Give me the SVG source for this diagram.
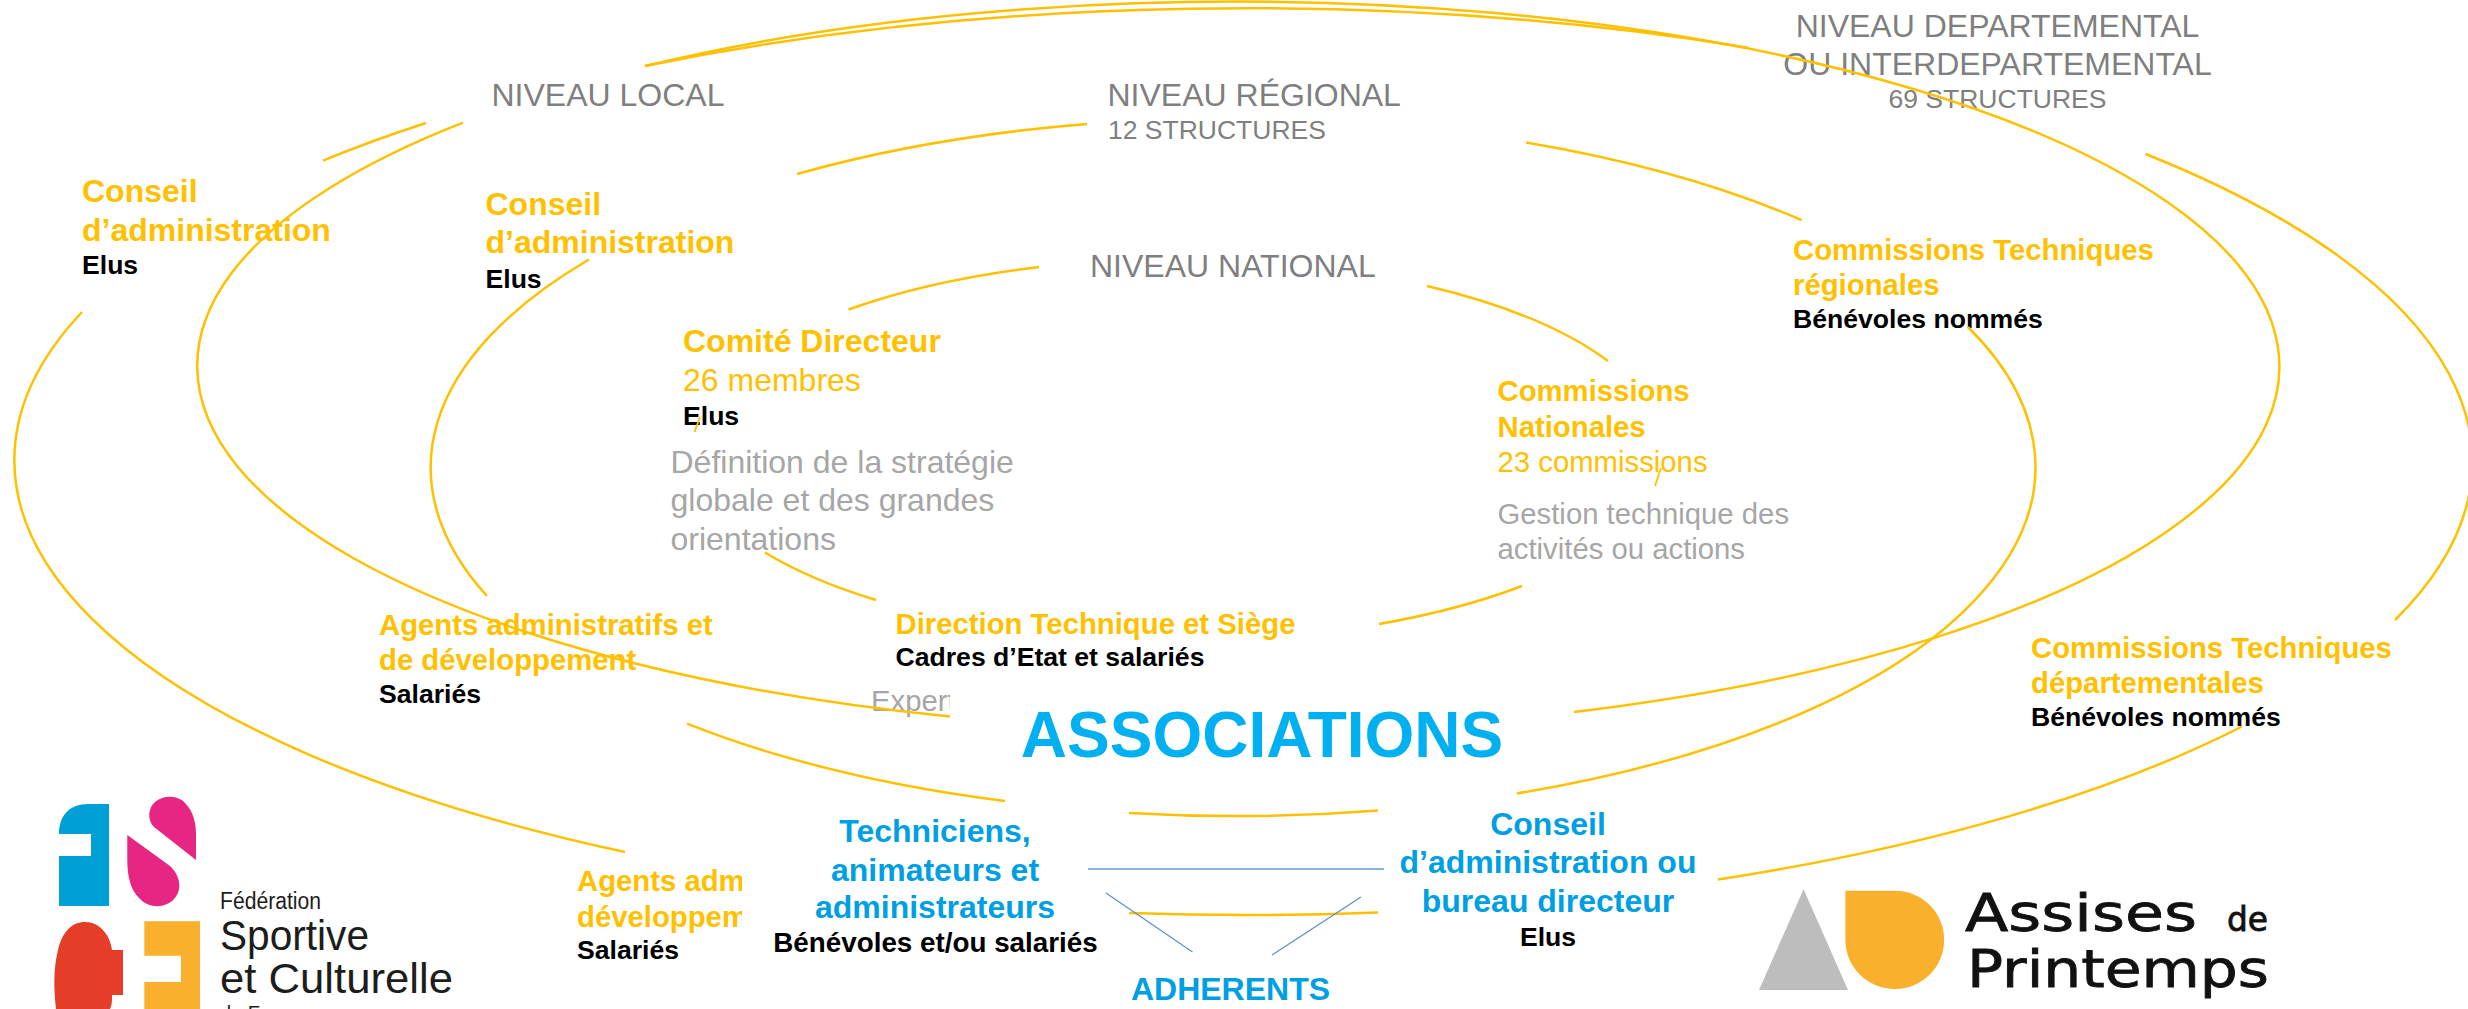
<svg xmlns="http://www.w3.org/2000/svg" width="2468" height="1009" viewBox="0 0 2468 1009">
<style>
text{font-family:"Liberation Sans",Arial,sans-serif}
.lvl{font-size:32px;fill:#7f7f7f}
.cnt{font-size:26.5px;fill:#7f7f7f}
.ttl{font-size:32px;font-weight:700;fill:#ffc000}
.ttm{font-size:29.3px;font-weight:700;fill:#ffc000}
.sub{font-size:32px;fill:#ffc000}
.subm{font-size:29.3px;fill:#ffc000}
.blk{font-size:26.6px;font-weight:700;fill:#000}
.dsc{font-size:32px;fill:#a6a6a6}
.dsm{font-size:29.3px;fill:#a6a6a6}
.blu{font-size:32px;font-weight:700;fill:#009fe3;text-anchor:middle}
.mid{text-anchor:middle}
.arc{fill:none;stroke:#ffc000;stroke-width:2.5}
.tick{fill:none;stroke:#ffc000;stroke-width:1.8}
.lnk{fill:none;stroke:#8eb4e3;stroke-width:2}
.lnd{fill:none;stroke:#5b8fc9;stroke-width:1.2}
.lg1{font-family:"Liberation Sans",Arial,sans-serif;fill:#1d1d1b}
.lg2{font-family:"DejaVu Sans",sans-serif;fill:#111;stroke:#111;stroke-width:.8}
</style>
<defs>
<clipPath id="clipExpert"><rect x="0" y="680" width="950" height="60"/></clipPath>
<clipPath id="clipAgents"><rect x="500" y="850" width="242" height="90"/></clipPath>
</defs>

<g id="niveau-local"><text class="lvl" x="491.5" y="106">NIVEAU LOCAL</text></g>
<g id="niveau-regional"><text class="lvl" x="1107.5" y="106">NIVEAU RÉGIONAL</text><text class="cnt" x="1108" y="138.5">12 STRUCTURES</text></g>
<g id="niveau-national"><text class="lvl" x="1090" y="277">NIVEAU NATIONAL</text></g>
<g id="niveau-departemental"><text class="lvl mid" x="1997.5" y="37">NIVEAU DEPARTEMENTAL</text><text class="lvl mid" x="1997.5" y="75">OU INTERDEPARTEMENTAL</text><text class="cnt mid" x="1997.5" y="108">69 STRUCTURES</text></g>

<g id="conseil-dept"><text class="ttl" x="82" y="202">Conseil</text><text class="ttl" x="82" y="241">d’administration</text><text class="blk" x="82" y="274">Elus</text></g>
<g id="conseil-local"><text class="ttl" x="485.5" y="215">Conseil</text><text class="ttl" x="485.5" y="253">d’administration</text><text class="blk" x="485.5" y="288">Elus</text></g>
<g id="comite-directeur"><text class="ttl" x="683" y="352">Comité Directeur</text><text class="sub" x="683" y="391">26 membres</text><text class="blk" x="683" y="424.5">Elus</text><text class="dsc" x="670.5" y="473">Définition de la stratégie</text><text class="dsc" x="670.5" y="511">globale et des grandes</text><text class="dsc" x="670.5" y="550">orientations</text></g>
<g id="commissions-nationales"><text class="ttm" x="1497.5" y="401">Commissions</text><text class="ttm" x="1497.5" y="437">Nationales</text><text class="subm" x="1497.5" y="472">23 commissions</text><text class="dsm" x="1497.5" y="523.5">Gestion technique des</text><text class="dsm" x="1497.5" y="559">activités ou actions</text></g>
<g id="commissions-regionales"><text class="ttm" x="1793" y="260">Commissions Techniques</text><text class="ttm" x="1793" y="295">régionales</text><text class="blk" x="1793" y="328">Bénévoles nommés</text></g>
<g id="commissions-departementales"><text class="ttm" x="2031" y="658">Commissions Techniques</text><text class="ttm" x="2031" y="693">départementales</text><text class="blk" x="2031" y="726">Bénévoles nommés</text></g>
<g id="agents-regionaux"><text class="ttm" x="379" y="635">Agents administratifs et</text><text class="ttm" x="379" y="670">de développement</text><text class="blk" x="379" y="702.5">Salariés</text></g>
<g id="agents-dept"><g clip-path="url(#clipAgents)"><text class="ttm" x="577" y="891">Agents adm</text><text class="ttm" x="577" y="927">développem</text></g><text class="blk" x="577" y="958.5">Salariés</text></g>
<g id="direction-technique"><text class="ttm" x="895.5" y="634">Direction Technique et Siège</text><text class="blk" x="895.5" y="666">Cadres d’Etat et salariés</text><text class="dsm" x="871" y="710.5" clip-path="url(#clipExpert)">Expert</text></g>
<g id="associations"><text class="mid" x="1262" y="757" font-size="64" font-weight="700" fill="#00b0f0">ASSOCIATIONS</text></g>
<g id="techniciens"><text class="blu" x="935" y="842">Techniciens,</text><text class="blu" x="935" y="881">animateurs et</text><text class="blu" x="935" y="918">administrateurs</text><text class="blk mid" x="935.5" y="952" font-size="27.8" style="font-size:27.8px">Bénévoles et/ou salariés</text></g>
<g id="conseil-association"><text class="blu" x="1548" y="834.5">Conseil</text><text class="blu" x="1548" y="872.5">d’administration ou</text><text class="blu" x="1548" y="912">bureau directeur</text><text class="blk mid" x="1548" y="946">Elus</text></g>
<g id="adherents"><text class="blu" x="1230.5" y="1000">ADHERENTS</text></g>

<g id="connectors">
<path class="arc" d="M645 66 A1231 453.5 0 0 1 1748 47.7"/>
<path class="arc" d="M426 123 A1231 453.5 0 0 0 323 160.6"/>
<path class="arc" d="M82 312 A1231 453.5 0 0 0 625 852"/>
<path class="arc" d="M1129 913 A1231 453.5 0 0 0 1378 912.5"/>
<path class="arc" d="M1718 879.5 A1231 453.5 0 0 0 2242 726.5"/>
<path class="arc" d="M2395 620 A1231 453.5 0 0 0 2145.5 154"/>
<path class="arc" d="M645 66 A1043 365 0 1 1 1574 712"/>
<path class="arc" d="M950 716.6 A1043 365 0 0 1 463 122.6"/>
<path class="arc" d="M797 174 A803 349 0 0 1 1087 124"/>
<path class="arc" d="M1526 142.5 A803 349 0 0 1 1801.5 220"/>
<path class="arc" d="M1968 327 A803 349 0 0 1 1517 793.4"/>
<path class="arc" d="M1378 810.5 A803 349 0 0 1 1129 813"/>
<path class="arc" d="M1005 801 A803 349 0 0 1 687 723.6"/>
<path class="arc" d="M487 596 A803 349 0 0 1 589 259.5"/>
<path class="arc" d="M1039 267 A490 191 0 0 0 848.5 309.5"/>
<path class="arc" d="M1427 286 A490 191 0 0 1 1608 361"/>
<path class="arc" d="M765 552.5 A490 191 0 0 0 876 600"/>
<path class="arc" d="M1522 586 A490 191 0 0 1 1379 624"/>
<path class="tick" d="M694.5 432 L700 417"/>
<path class="tick" d="M1655 486 L1661 468"/>
<path class="lnk" d="M1088 869 H1384"/>
<path class="lnd" d="M1106 893 L1192.5 952"/>
<path class="lnd" d="M1361 897 L1272 955"/>
</g>

<g id="logo-fscf">
<path fill="#009fd6" d="M59 834 C59 815 70 804 88 804 L109 804 L109 906 L59 906 L59 856 L91 856 L91 834 Z"/>
<path fill="#e72583" d="M196 860 L154 827 C147 820 148 808 155 802 C162 796 176 794 185 803 C193 811 196 822 196 835 Z"/>
<path fill="#e72583" d="M127.3 835 L170 866 C180 875 183 890 174 899 C166 908 150 909 140 899 C130 890 127.3 875 127.3 860 Z"/>
<path fill="#e53d28" d="M56 1009 C54 990 53 970 58 950 C62 932 72 922 85 922 C100 922 110 935 112 950 L123 950 L123 995 L112 995 C112 1002 112 1005 110 1009 Z"/>
<path fill="#f9b02c" d="M144.3 921.3 L200 921.3 L200 1009 L144.3 1009 L144.3 982 L181 982 L181 955.7 L144.3 955.7 Z"/>
<text class="lg1" x="220" y="908.5" font-size="23" textLength="101" lengthAdjust="spacingAndGlyphs">Fédération</text>
<text class="lg1" x="220" y="950" font-size="43" textLength="149" lengthAdjust="spacingAndGlyphs">Sportive</text>
<text class="lg1" x="220" y="993" font-size="43" textLength="233" lengthAdjust="spacingAndGlyphs">et Culturelle</text>
<text class="lg1" x="220" y="1020" font-size="20">de France</text>
</g>

<g id="logo-assises">
<path fill="#bdbdbd" d="M1803.6 889.3 L1848 990 L1759 990 Z"/>
<path fill="#f9b02c" d="M1845.4 890.7 L1895 890.7 A49 49 0 0 1 1895 989 A49.6 49 0 0 1 1845.4 940 Z"/>
<text class="lg2" x="1965" y="931" font-size="52" textLength="232" lengthAdjust="spacingAndGlyphs">Assises</text>
<text class="lg2" x="2227" y="931" font-size="33" textLength="41" lengthAdjust="spacingAndGlyphs">de</text>
<text class="lg2" x="1967" y="987" font-size="52" textLength="302" lengthAdjust="spacingAndGlyphs">Printemps</text>
</g>
</svg>
